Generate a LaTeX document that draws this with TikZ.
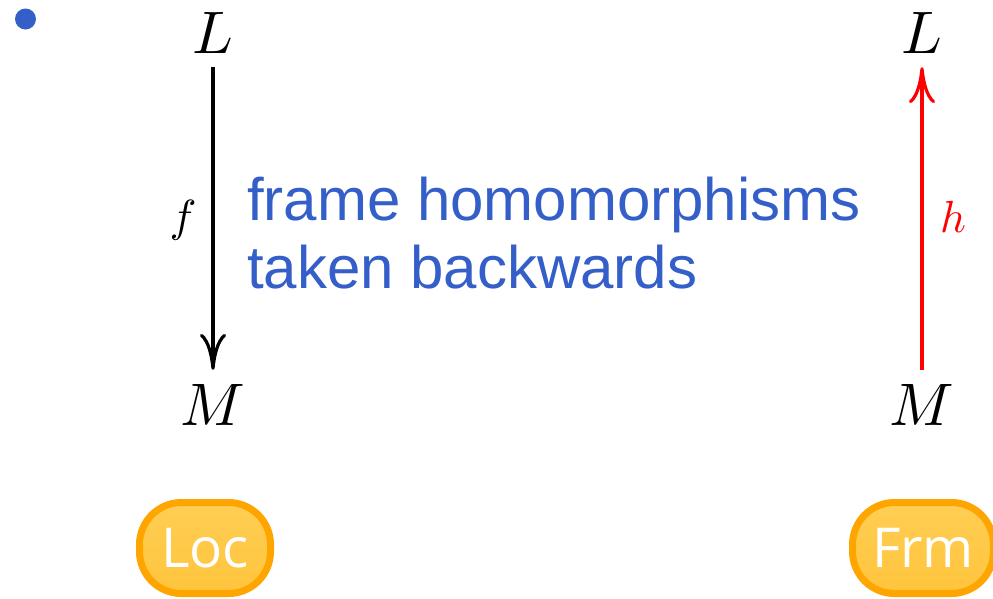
\documentclass[tikz,border=0pt]{standalone}
\usepackage{graphicx}
\usepackage{fontspec}
\setsansfont{Liberation Sans}
\newfontfamily\btnfont{Open Sans}
\usetikzlibrary{arrows.meta}

\definecolor{slideblue}{RGB}{52,94,200}
\definecolor{btnborder}{RGB}{255,165,0}
\definecolor{btntop}{RGB}{255,206,84}
\definecolor{btnbottom}{RGB}{255,196,60}

% math symbols enlarged from their 10pt design size
\newcommand{\bigmath}[1]{\scalebox{6}{$#1$}}
\newcommand{\labmath}[1]{\scalebox{4.5}{$#1$}}

\tikzset{
  obj/.style={inner sep=14pt},
  maplabel/.style={inner sep=0pt},
  morph/.style={line width=3.2pt, -{Computer Modern Rightarrow[length=36pt,width=26pt]}},
  note/.style={inner sep=0pt, text=slideblue, font=\sffamily\fontsize{60}{68}\selectfont},
  button/.style={draw=btnborder, line width=7pt, rounded corners=42pt,
    top color=btntop, bottom color=btnbottom, inner sep=0pt,
    minimum height=91pt, text=white, font=\btnfont\fontsize{55}{66}\selectfont}
}

\begin{document}
\begin{tikzpicture}[x=1pt,y=-1pt]
  \useasboundingbox (0,0) rectangle (993,598);

  % bullet
  \fill[slideblue] (25.5,19) circle (10.5pt);

  % left column: locale map
  \node[obj, anchor=base] (L1) at (213,53) {\bigmath{L}};
  \node[obj, anchor=base] (M1) at (213,425) {\bigmath{M}};
  \draw[morph] (L1) -- (M1);
  \node[maplabel] (f) at (183,220) {\labmath{f}};

  % right column: frame homomorphism
  \node[obj, anchor=base] (L2) at (922,53) {\bigmath{L}};
  \node[obj, anchor=base] (M2) at (922,425) {\bigmath{M}};
  \draw[morph, red] (M2) -- (L2);
  \node[maplabel, text=red] (h) at (953,217) {\labmath{h}};

  % explanatory note
  \node[note, anchor=base west] (t1) at (247,220) {frame homomorphisms};
  \node[note, anchor=base west] (t2) at (247,288) {taken backwards};

  % category buttons
  \node[button, minimum width=131pt] (loc) at (205,548) {Loc};
  \node[button, minimum width=141pt] (frm) at (923,548) {Frm};
\end{tikzpicture}
\end{document}
